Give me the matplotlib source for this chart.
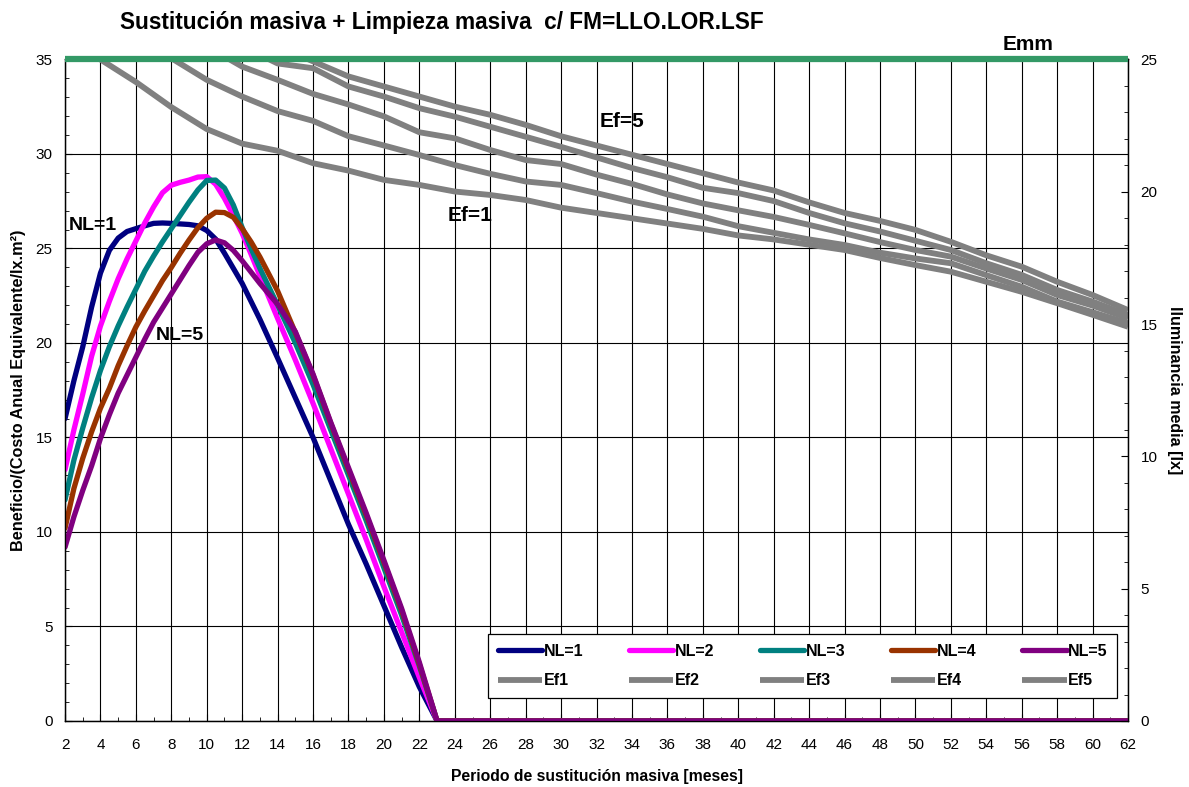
import numpy as np
import matplotlib.pyplot as plt
from matplotlib.ticker import MultipleLocator

plt.rcParams['font.family'] = ['Liberation Sans', 'DejaVu Sans']

# Periodo de sustitucion masiva [meses] para las curvas NL
nl_months = [2, 2.5, 3, 3.5, 4, 4.5, 5, 5.5, 6, 6.5, 7, 7.5, 8, 8.5, 9, 9.5,
             10, 10.5, 11, 11.5, 12, 12.5, 13,
             14, 15, 16, 17, 18, 19, 20, 21, 22, 23, 62]

# Beneficio/(Costo Anual Equivalente/lx.m2) por nivel de limpieza
nl1 = [16.0, 18.0, 19.8, 21.9, 23.7, 24.9, 25.55, 25.9, 26.05, 26.2, 26.33,
       26.35, 26.33, 26.3, 26.27, 26.2, 25.95, 25.5, 24.75, 23.95, 23.15,
       22.2, 21.25,
       19.2, 17.1, 15.0, 12.7, 10.4, 8.3, 6.1, 3.9, 1.8, 0.0, 0.0]
nl2 = [13.3, 15.4, 17.3, 19.3, 20.9, 22.2, 23.4, 24.45, 25.4, 26.35, 27.2,
       27.95, 28.35, 28.5, 28.62, 28.78, 28.8, 28.4, 27.65, 26.75, 25.8,
       24.7, 23.55,
       21.3, 19.1, 16.8, 14.4, 12.0, 9.6, 7.1, 4.7, 2.3, 0.0, 0.0]
nl3 = [11.7, 13.8, 15.5, 17.1, 18.55, 19.8, 20.9, 21.9, 22.85, 23.8, 24.6,
       25.35, 26.05, 26.75, 27.45, 28.1, 28.6, 28.62, 28.2, 27.3, 26.1,
       25.0, 23.95,
       22.0, 20.0, 17.8, 15.4, 13.0, 10.6, 8.1, 5.6, 2.9, 0.0, 0.0]
nl4 = [10.2, 12.3, 13.9, 15.3, 16.55, 17.6, 18.8, 19.85, 20.85, 21.7, 22.5,
       23.3, 24.0, 24.75, 25.45, 26.1, 26.6, 26.92, 26.9, 26.65, 26.05,
       25.35, 24.55,
       22.75, 20.55, 18.3, 15.75, 13.3, 10.9, 8.4, 5.85, 3.0, 0.0, 0.0]
nl5 = [9.2, 10.8, 12.2, 13.5, 14.95, 16.2, 17.35, 18.3, 19.25, 20.2, 21.1,
       21.85, 22.6, 23.35, 24.1, 24.8, 25.25, 25.45, 25.3, 24.9, 24.35,
       23.75, 23.15,
       22.05, 20.6, 18.35, 15.8, 13.4, 11.0, 8.5, 5.95, 3.1, 0.0, 0.0]

# Iluminancia media [lx] cada 2 meses
ef_months = list(range(2, 63, 2))
nan = np.nan
ef1 = [nan, 25.0, 24.15, 23.2, 22.37, 21.82, 21.55, 21.08, 20.8, 20.45, 20.26,
       20.01, 19.88, 19.69, 19.4, 19.2, 19.0, 18.8, 18.6, 18.35, 18.2, 18.0,
       17.8, 17.5, 17.23, 16.98, 16.6, 16.22, 15.79, 15.35, 14.9]
ef2 = [nan, nan, 25.8, 25.05, 24.23, 23.6, 23.05, 22.68, 22.1, 21.75, 21.39,
       21.01, 20.68, 20.39, 20.26, 19.95, 19.63, 19.35, 19.06, 18.7, 18.45,
       18.2, 17.99, 17.7, 17.48, 17.3, 16.85, 16.41, 15.85, 15.45, 15.03]
ef3 = [nan, nan, nan, nan, 25.5, 24.73, 24.23, 23.7, 23.3, 22.85, 22.25,
       22.02, 21.58, 21.2, 21.05, 20.65, 20.3, 19.9, 19.56, 19.3, 19.05,
       18.75, 18.43, 18.1, 17.8, 17.55, 17.1, 16.67, 16.1, 15.7, 15.22]
ef4 = [nan, nan, nan, nan, nan, 25.5, 24.85, 24.67, 23.98, 23.6, 23.16,
       22.84, 22.46, 22.08, 21.7, 21.3, 20.9, 20.55, 20.15, 19.95, 19.65,
       19.2, 18.81, 18.5, 18.15, 17.8, 17.3, 16.86, 16.29, 15.85, 15.34]
ef5 = [nan, nan, nan, nan, nan, nan, 25.5, 24.93, 24.36, 23.98, 23.6,
       23.22, 22.91, 22.53, 22.1, 21.75, 21.4, 21.05, 20.7, 20.35, 20.05,
       19.6, 19.2, 18.9, 18.56, 18.11, 17.6, 17.17, 16.6, 16.1, 15.53]

emm_x = [2, 62]
emm = [25, 25]

nl_labels = ['NL=1', 'NL=2', 'NL=3', 'NL=4', 'NL=5']
nl_colors = ['#000080', '#FF00FF', '#008080', '#993300', '#800080']
ef_labels = ['Ef1', 'Ef2', 'Ef3', 'Ef4', 'Ef5']

fig = plt.figure(figsize=(11.89, 7.87), dpi=100)
ax = fig.add_axes([0.0547, 0.0839, 0.894, 0.8405])
ax2 = ax.twinx()

nl_lines = []
for vals, col, lab in zip([nl1, nl2, nl3, nl4, nl5], nl_colors, nl_labels):
    ln, = ax.plot(nl_months, vals, color=col, lw=3.8, label=lab,
                  solid_capstyle='round', solid_joinstyle='round', zorder=3)
    nl_lines.append(ln)

ef_lines = []
for vals, lab in zip([ef1, ef2, ef3, ef4, ef5], ef_labels):
    ln, = ax2.plot(ef_months, vals, color='#808080', lw=4.2, label=lab,
                   solid_capstyle='butt')
    ef_lines.append(ln)

ax2.plot(emm_x, emm, color='#339966', lw=4.5, clip_on=False,
         solid_capstyle='butt', zorder=5)

ax.set_xlim(2, 62)
ax.set_ylim(0, 35)
ax2.set_ylim(0, 25)

ax.xaxis.set_major_locator(MultipleLocator(2))
ax.xaxis.set_minor_locator(MultipleLocator(1))
ax.yaxis.set_major_locator(MultipleLocator(5))
ax.yaxis.set_minor_locator(MultipleLocator(1))
ax2.yaxis.set_major_locator(MultipleLocator(5))
ax2.yaxis.set_minor_locator(MultipleLocator(1))

ax.grid(True, which='major', color='black', lw=0.8, zorder=0)
ax.set_axisbelow(True)

ax.tick_params(which='both', direction='in', labelsize=11)
ax.tick_params(which='major', length=5)
ax.tick_params(which='minor', length=3)
ax.tick_params(axis='x', pad=12)
ax.tick_params(axis='y', pad=9)
ax2.tick_params(which='both', direction='in', labelsize=11, pad=9)
ax2.tick_params(which='major', length=5)
ax2.tick_params(which='minor', length=3)

for a in (ax, ax2):
    for s in a.spines.values():
        s.set_linewidth(0.9)

ax.set_xlabel('Periodo de sustitución masiva [meses]', fontsize=11.3,
              fontweight='bold')
ax.xaxis.set_label_coords(0.5, -0.072)
ax.set_ylabel('Beneficio/(Costo Anual Equivalente/lx.m²)', fontsize=11.7,
              fontweight='bold')
ax.yaxis.set_label_coords(-0.037, 0.5)
ax2.set_ylabel('Iluminancia media [lx]', fontsize=11.5, fontweight='bold',
               rotation=-90, va='center')
ax2.yaxis.set_label_coords(1.044, 0.5)

fig.text(120 / 1189, 1 - 22 / 787,
         'Sustitución masiva + Limpieza masiva  c/ FM=LLO.LOR.LSF',
         fontsize=16.3, fontweight='bold', ha='left', va='center')

# etiquetas sobre las curvas
ax.text(2.2, 26.2, 'NL=1', fontsize=14, fontweight='bold', va='center')
ax.text(7.1, 20.4, 'NL=5', fontsize=14, fontweight='bold', va='center')
ax2.text(23.6, 19.1, 'Ef=1', fontsize=15, fontweight='bold', va='center')
ax2.text(32.2, 22.65, 'Ef=5', fontsize=15, fontweight='bold', va='center')
ax2.text(54.9, 25.55, 'Emm', fontsize=15, fontweight='bold', va='center',
         clip_on=False)

handles = []
for a, b in zip(nl_lines, ef_lines):
    handles += [a, b]
leg = ax2.legend(handles=handles, ncol=5, loc='lower left',
                 bbox_to_anchor=(0.398, 0.035, 0.592, 0.118), mode='expand',
                 prop={'weight': 'bold', 'size': 11.5}, frameon=True,
                 fancybox=False, edgecolor='black', framealpha=1,
                 borderaxespad=0, handlelength=2.8, handletextpad=0.1,
                 columnspacing=0.6, labelspacing=0.9, borderpad=0.6)
leg.get_frame().set_linewidth(0.9)
leg.set_zorder(10)

fig.savefig('out.png', dpi=100, facecolor='white')
